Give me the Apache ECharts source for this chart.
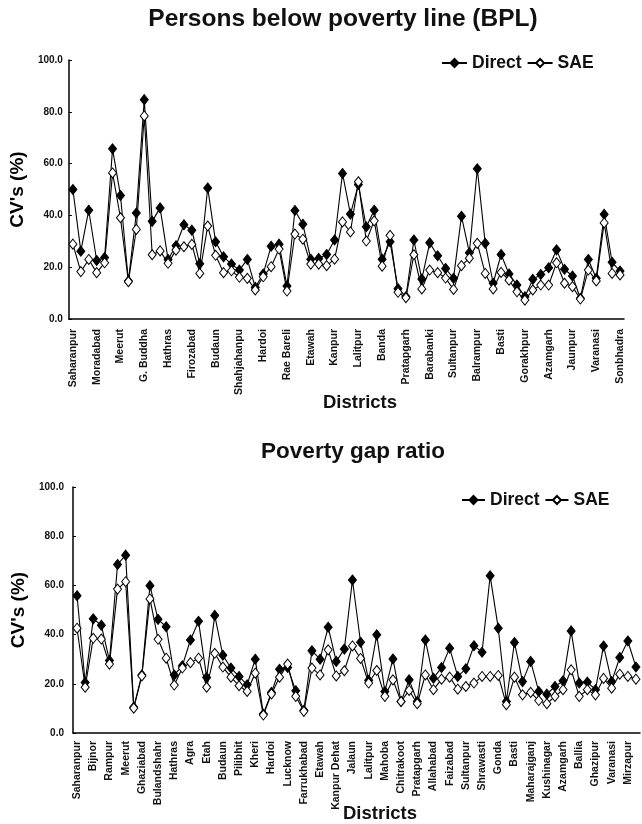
<!DOCTYPE html>
<html>
<head>
<meta charset="utf-8">
<script src="https://cdn.jsdelivr.net/npm/echarts@6/dist/echarts.min.js"></script>
<style>
  html, body { margin: 0; padding: 0; background: #fff; }
  #chart { width: 642px; height: 824px; }
</style>
</head>
<body>
<div id="chart"></div>
<script>
// 70 districts of Uttar Pradesh, in the order used on both x-axes
const districts = [
  "Saharanpur", "Muzaffarnagar", "Bijnor", "Moradabad", "Rampur", "J.P. Nagar", "Meerut", "Baghpat",
  "Ghaziabad", "G. Buddha", "Bulandshahr", "Aligarh", "Hathras", "Mathura", "Agra", "Firozabad",
  "Etah", "Mainpuri", "Budaun", "Bareilly", "Pilibhit", "Shahjahanpu", "Kheri", "Sitapur",
  "Hardoi", "Unnao", "Lucknow", "Rae Bareli", "Farrukhabad", "Kannauj", "Etawah", "Auraiya",
  "Kanpur Dehat", "Kanpur", "Jalaun", "Jhansi", "Lalitpur", "Hamirpur", "Mahoba", "Banda",
  "Chitrakoot", "Fatehpur", "Pratapgarh", "Kaushambi", "Allahabad", "Barabanki", "Faizabad", "Ambedkar Nagar",
  "Sultanpur", "Bahraich", "Shrawasti", "Balrampur", "Gonda", "Siddharthnagar", "Basti", "S.K. Nagar",
  "Maharajganj", "Gorakhpur", "Kushinagar", "Deoria", "Azamgarh", "Mau", "Ballia", "Jaunpur",
  "Ghazipur", "Chandauli", "Varanasi", "S.R. Nagar", "Mirzapur", "Sonbhadra"
];

// CV (%) - persons below poverty line
const bplDirect = [
  50.0, 26.2, 42.0, 22.6, 23.7, 65.7, 47.7, 14.7, 40.9, 84.7,
  37.7, 42.9, 23.0, 28.3, 36.4, 34.3, 21.3, 50.6, 29.8, 24.0,
  21.2, 18.9, 23.0, 12.2, 17.4, 28.1, 28.9, 12.7, 41.9, 36.6,
  23.1, 23.4, 24.9, 30.5, 56.2, 40.5, 51.9, 35.6, 42.0, 23.1,
  29.8, 11.7, 8.6, 30.5, 15.4, 29.4, 24.4, 19.5, 15.7, 39.7,
  25.6, 58.0, 29.2, 13.8, 24.9, 17.4, 13.1, 8.6, 15.3, 17.2,
  19.8, 26.7, 19.2, 16.6, 8.0, 23.0, 15.7, 40.4, 21.9, 18.5
];
const bplSAE = [
  28.9, 18.3, 23.0, 17.9, 21.7, 56.4, 39.1, 14.4, 34.6, 78.4,
  24.8, 26.3, 21.5, 26.6, 27.9, 28.8, 17.6, 35.9, 24.6, 17.9,
  18.6, 16.1, 15.7, 11.2, 16.3, 20.2, 27.0, 10.8, 32.8, 30.8,
  21.2, 21.2, 20.6, 23.1, 37.5, 33.6, 53.0, 30.1, 37.9, 20.4,
  32.3, 10.3, 8.2, 24.8, 11.6, 18.9, 17.9, 15.8, 11.4, 20.6,
  23.5, 29.2, 17.6, 11.6, 18.0, 15.0, 10.5, 7.3, 11.2, 13.1,
  13.1, 21.7, 13.8, 12.5, 7.7, 18.9, 14.7, 37.1, 17.6, 17.0
];

// CV (%) - poverty gap ratio
const pgrDirect = [
  55.8, 20.5, 46.4, 43.8, 29.5, 68.5, 72.3, 10.5, 23.6, 59.9,
  46.2, 43.2, 23.6, 27.3, 37.8, 45.4, 22.6, 47.8, 31.6, 26.4,
  23.0, 19.6, 30.0, 7.7, 16.5, 25.9, 26.6, 17.2, 9.2, 33.4,
  30.0, 43.0, 29.1, 34.1, 62.2, 36.9, 21.4, 39.9, 16.9, 30.1,
  12.8, 21.6, 12.8, 37.8, 22.3, 26.6, 34.5, 23.0, 26.1, 35.5,
  32.8, 63.9, 42.6, 12.8, 36.8, 20.9, 29.1, 16.9, 15.8, 18.9,
  21.2, 41.5, 20.3, 20.7, 17.6, 35.4, 20.9, 30.7, 37.4, 26.8
];
const pgrSAE = [
  42.6, 18.6, 38.5, 38.2, 28.0, 58.5, 61.5, 10.1, 23.2, 54.5,
  38.1, 30.4, 19.5, 26.4, 28.6, 30.4, 18.6, 32.4, 26.8, 22.7,
  19.2, 16.9, 24.3, 7.3, 15.9, 22.7, 28.0, 14.9, 8.8, 26.4,
  23.6, 33.8, 23.2, 25.3, 35.4, 30.3, 20.3, 25.4, 14.9, 21.6,
  12.8, 17.3, 11.9, 23.6, 17.6, 21.9, 22.7, 17.8, 18.9, 20.3,
  23.0, 23.0, 23.4, 11.5, 22.7, 15.5, 16.5, 13.2, 11.9, 14.9,
  17.6, 25.7, 14.9, 17.6, 15.5, 22.2, 18.2, 23.9, 23.0, 21.9
];

const yTicks = [0, 20, 40, 60, 80, 100];

const font = "Arial, 'Liberation Sans', sans-serif";

const chart = echarts.init(document.getElementById("chart"));

function xAxisFor(gridIndex, labelInterval, labelMargin) {
  return {
    type: "category",
    gridIndex: gridIndex,
    data: districts,
    axisLine: { lineStyle: { color: "#000", width: 1.5 } },
    axisTick: { interval: 0, length: 4, lineStyle: { color: "#000", width: 1 } },
    axisLabel: {
      interval: labelInterval,
      rotate: 90,
      margin: labelMargin,
      color: "#111",
      fontFamily: font,
      fontWeight: "bold",
      fontSize: 10.5,
    },
  };
}

function yAxisFor(gridIndex, labelMargin) {
  return {
    type: "value",
    gridIndex: gridIndex,
    min: yTicks[0],
    max: yTicks[yTicks.length - 1],
    interval: yTicks[1] - yTicks[0],
    name: "CV's (%)",
    nameLocation: "middle",
    nameGap: 31,
    nameTextStyle: { fontFamily: font, fontWeight: "bold", fontSize: 19, color: "#000" },
    axisLine: { show: true, lineStyle: { color: "#000", width: 1.5 } },
    axisTick: { show: true, inside: true, length: 3, lineStyle: { color: "#000" } },
    splitLine: { show: false },
    axisLabel: {
      margin: labelMargin,
      color: "#111",
      fontFamily: font,
      fontWeight: "bold",
      fontSize: 10,
      formatter: (v) => v.toFixed(1),
    },
  };
}

function lineSeries(name, data, idx, filled) {
  return {
    name: name,
    type: "line",
    xAxisIndex: idx,
    yAxisIndex: idx,
    data: data,
    symbol: "diamond",
    symbolSize: [8, 10],
    showAllSymbol: true,
    lineStyle: { color: "#000", width: 1.1 },
    itemStyle: filled
      ? { color: "#000", borderColor: "#000", borderWidth: 1 }
      : { color: "#fff", borderColor: "#000", borderWidth: 1 },
    z: filled ? 2 : 3,
  };
}

function label(text, x, y, size) {
  return {
    type: "text",
    x: x,
    y: y,
    style: { text: text, font: "bold " + size + "px " + font, fill: "#111", align: "center", verticalAlign: "middle" },
  };
}

const legendText = { fontFamily: font, fontWeight: "bold", fontSize: 17.5, color: "#111" };

chart.setOption({
  animation: false,
  backgroundColor: "#fff",
  legend: [
    {
      data: ["Direct", "SAE"],
      left: 436,
      top: 49,
      itemWidth: 25,
      itemHeight: 10,
      itemGap: 5,
      textStyle: legendText,
      selectedMode: false,
    },
    {
      data: ["Direct ", "SAE "],
      left: 456,
      top: 486,
      itemWidth: 23,
      itemHeight: 10,
      itemGap: 0,
      textStyle: legendText,
      selectedMode: false,
    },
  ],
  grid: [
    { left: 68, top: 60, width: 556, height: 259 },
    { left: 73, top: 487, width: 567, height: 246 },
  ],
  xAxis: [xAxisFor(0, 2, 10), xAxisFor(1, 1, 8)],
  yAxis: [yAxisFor(0, 6), yAxisFor(1, 9)],
  series: [
    lineSeries("Direct", bplDirect, 0, true),
    lineSeries("SAE", bplSAE, 0, false),
    lineSeries("Direct ", pgrDirect, 1, true),
    lineSeries("SAE ", pgrSAE, 1, false),
  ],
  graphic: [
    label("Persons below poverty line (BPL)", 343, 19, 24.5),
    label("Poverty gap ratio", 353, 452, 22.5),
    label("Districts", 360, 403, 18.5),
    label("Districts", 380, 814, 18.5),
  ],
});
</script>
</body>
</html>
